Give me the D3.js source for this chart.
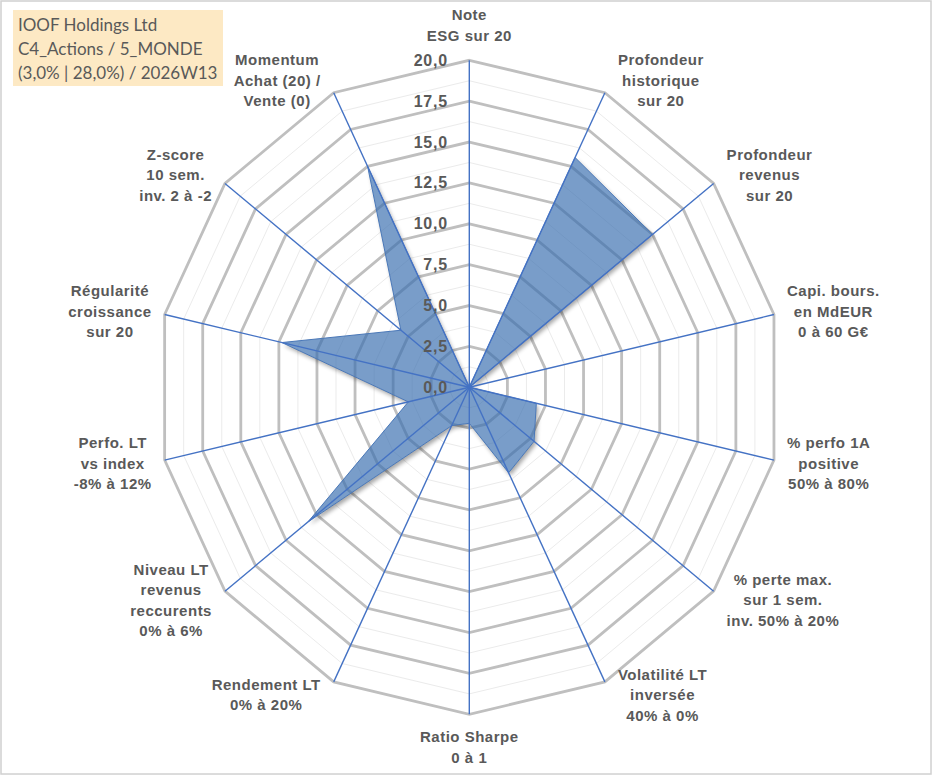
<!DOCTYPE html>
<html><head><meta charset="utf-8">
<script src="https://cdn.jsdelivr.net/npm/d3@7"></script>
<style>body{margin:0;background:#fff;} svg{display:block}</style>
</head><body><svg id="c" width="933" height="776"></svg>
<script>
const axisLabels = [
 ["Note","ESG sur 20"],
 ["Profondeur","historique","sur 20"],
 ["Profondeur","revenus","sur 20"],
 ["Capi. bours.","en MdEUR","0 à 60 G€"],
 ["% perfo 1A","positive","50% à 80%"],
 ["% perte max.","sur 1 sem.","inv. 50% à 20%"],
 ["Volatilité LT","inversée","40% à 0%"],
 ["Ratio Sharpe","0 à 1"],
 ["Rendement LT","0% à 20%"],
 ["Niveau LT","revenus","reccurents","0% à 6%"],
 ["Perfo. LT","vs index","-8% à 12%"],
 ["Régularité","croissance","sur 20"],
 ["Z-score","10 sem.","inv. 2 à -2"],
 ["Momentum","Achat (20) /","Vente (0)"]
];
const values = [0, 15.6, 15.0, 0, 4.4, 5.3, 5.8, 2.2, 2.6, 13.2, 4.0, 12.3, 5.6, 15.0];
const tickValues = [0, 2.5, 5, 7.5, 10, 12.5, 15, 17.5, 20];
const titleLines = ["IOOF Holdings Ltd", "C4_Actions / 5_MONDE", "(3,0% | 28,0%) / 2026W13"];

const svg = d3.select("#c");
const W = 933, H = 776;
const cx = 469.3, cy = 387.3;
const n = axisLabels.length;
const ry = d3.scaleLinear().domain([0, 20]).range([0, 327]);
const rx = d3.scaleLinear().domain([0, 20]).range([0, 312.5]);
const ang = d3.scaleLinear().domain([0, n]).range([0, 2 * Math.PI]);
const pt = (i, v) => [cx + rx(v) * Math.sin(ang(i)), cy - ry(v) * Math.cos(ang(i))];
const line = d3.line();

// border
svg.append("rect").attr("x", 1).attr("y", 1).attr("width", W - 3).attr("height", H - 3)
  .attr("fill", "#fff").attr("stroke", "#d0d0d0").attr("stroke-width", 1.5);

const defs = svg.append("defs");
defs.append("filter").attr("id", "blur").attr("x", "-10%").attr("y", "-10%").attr("width", "120%").attr("height", "120%")
  .append("feGaussianBlur").attr("stdDeviation", 2);
const polyPts = values.map((v, i) => pt(i, v));
const polyD = line(polyPts) + "Z";
const mask = defs.append("mask").attr("id", "outside").attr("maskUnits", "userSpaceOnUse")
  .attr("x", 0).attr("y", 0).attr("width", W).attr("height", H);
mask.append("rect").attr("width", W).attr("height", H).attr("fill", "white");
mask.append("path").attr("d", polyD).attr("fill", "black");

// grid
const levels = d3.range(1, 17).map(k => k * 1.25);
const grid = svg.append("g");
levels.forEach(l => {
  const major = Math.abs(l / 2.5 - Math.round(l / 2.5)) < 1e-6;
  const pts = d3.range(n).map(i => pt(i, l));
  grid.append("path").attr("d", line(pts) + "Z").attr("fill", "none")
    .attr("stroke", major ? "#bfbfbf" : "#ebebeb")
    .attr("stroke-width", major ? 2.8 : 1)
    .attr("stroke-linejoin", "miter");
});

// shadow
svg.append("g").attr("mask", "url(#outside)")
  .append("path").attr("d", polyD).attr("transform", "translate(2,3)")
  .attr("fill", "#000").attr("opacity", 0.35).attr("filter", "url(#blur)");

// series polygon
svg.append("path").attr("d", polyD)
  .attr("fill", "#3a6fb0").attr("fill-opacity", 0.68)
  .attr("stroke", "#4a78b8").attr("stroke-width", 1).attr("stroke-linejoin", "miter");

// axis lines
const ax = svg.append("g");
d3.range(n).forEach(i => {
  ax.append("path").attr("d", line([pt(i, 0), pt(i, 20)]))
    .attr("stroke", "#4472c4").attr("stroke-width", 1.4).attr("fill", "none");
});

// tick labels
const fmt = v => d3.format(".1f")(v).replace(".", ",");
svg.append("g").selectAll("text").data(tickValues).join("text")
  .attr("x", 448).attr("y", d => cy - ry(d))
  .attr("text-anchor", "end").attr("dominant-baseline", "central")
  .attr("font-family", "Liberation Sans, Arial, sans-serif").attr("font-weight", "bold")
  .attr("font-size", 16).attr("letter-spacing", 0.8).attr("fill", "#595959")
  .text(fmt);

// axis labels
const lh = 20.5;
const lab = svg.append("g").attr("font-family", "Liberation Sans, Arial, sans-serif")
  .attr("font-weight", "bold").attr("font-size", 15).attr("letter-spacing", 0.5).attr("fill", "#595959");
axisLabels.forEach((lines, i) => {
  const a = ang(i), s = Math.sin(a), c = Math.cos(a);
  const [ex, ey] = pt(i, 20);
  const t = lab.append("text").attr("text-anchor", "middle");
  lines.forEach((L, k) => t.append("tspan").attr("x", 0).attr("y", (k - (lines.length - 1) / 2) * lh)
    .attr("dominant-baseline", "central").text(L));
  const bb = t.node().getBBox();
  const hh = lines.length * lh;
  let px, py;
  if (Math.abs(s) < 0.1) {
    px = ex;
    py = ey - c * (hh / 2 + (c > 0 ? 15 : 12));
  } else {
    px = ex + Math.sign(s) * (bb.width / 2 + 13);
    py = ey - c * 14;
  }
  t.attr("transform", `translate(${px},${py})`);
});

// title box
const tb = svg.append("g");
tb.append("rect").attr("x", 13).attr("y", 10).attr("width", 210).attr("height", 76).attr("fill", "#fde9c4");
tb.append("g").selectAll("text").data(titleLines).join("text")
  .attr("x", 18).attr("y", (d, i) => 24 + i * 24).attr("dominant-baseline", "central")
  .attr("font-family", "Lato, sans-serif").attr("font-size", 17).attr("fill", "#595959")
  .text(d => d);
</script>
</body></html>
